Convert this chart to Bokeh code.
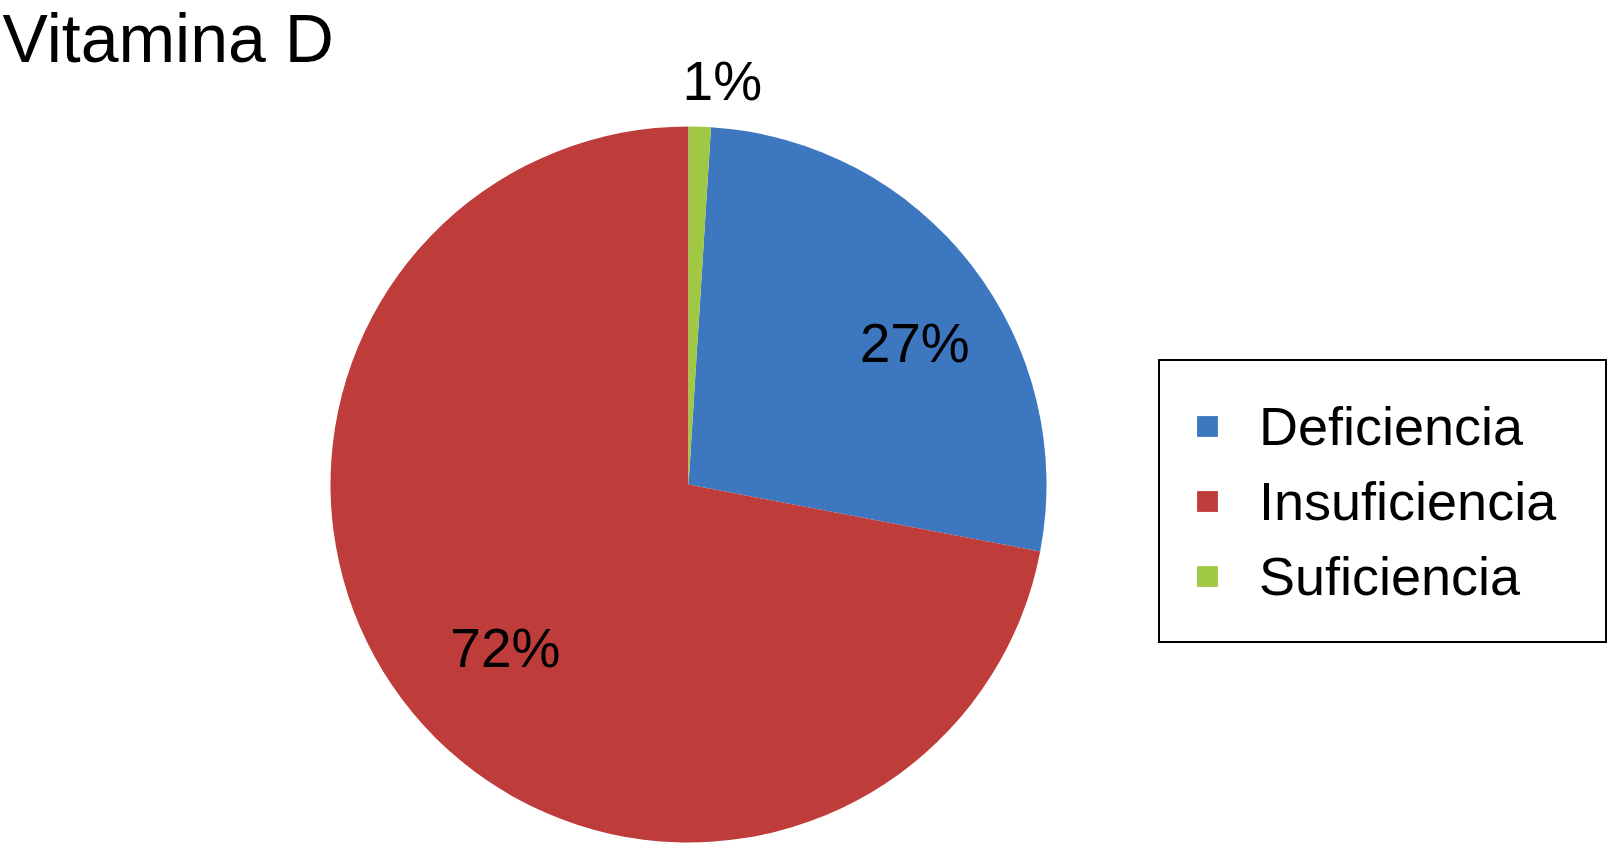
import math
from bokeh.plotting import figure
from bokeh.models import ColumnDataSource, Legend, LegendItem, Label
from bokeh.embed import file_html
from bokeh.resources import INLINE

# ---- data ----
categories = ["Deficiencia", "Insuficiencia", "Suficiencia"]
values = [27, 72, 1]
pct_labels = ["27%", "72%", "1%"]
colors = ["#3D77BF", "#BE3C3A", "#A0C842"]
title_text = "Vitamina D"

# ---- layout ----
W, H = 1609, 844
cx, cy, R = 688, H - 484, 358
start_offset_deg = 3.6          # first slice starts slightly right of 12 o'clock
label_r = [0.745, 0.685, 1.13]  # radial position of labels (fraction of R)
label_da = [5.8, -2.1, 3.0]     # angular nudge (deg, clockwise)
FONT = "Liberation Sans"

total = float(sum(values))
starts, ends, lx, ly = [], [], [], []
cum = start_offset_deg
for i, v in enumerate(values):
    sweep = v / total * 360.0
    a0 = cum
    a1 = cum + sweep
    # clockwise-from-top degrees -> bokeh radians (anticlockwise from +x)
    starts.append(math.radians(90 - a0))
    ends.append(math.radians(90 - a1))
    mid = (a0 + a1) / 2.0 + label_da[i]
    lx.append(cx + label_r[i] * R * math.sin(math.radians(mid)))
    ly.append(cy + label_r[i] * R * math.cos(math.radians(mid)))
    cum = a1

src = ColumnDataSource(dict(cat=categories, val=values, color=colors,
                            start=starts, end=ends,
                            x=[cx] * 3, y=[cy] * 3,
                            lx=lx, ly=ly, txt=pct_labels))

p = figure(width=W, height=H, x_range=(0, W), y_range=(0, H),
           output_backend="svg", toolbar_location=None,
           min_border=0, outline_line_color=None)
p.axis.visible = False
p.grid.visible = False
p.background_fill_color = "white"
p.border_fill_color = "white"

r = p.wedge(x="x", y="y", radius=R, start_angle="start", end_angle="end",
            direction="clock", fill_color="color", line_color=None, source=src)

p.text(x="lx", y="ly", text="txt", source=src, text_align="center",
       text_baseline="middle", text_font_size="55px", text_color="black",
       text_font={"value": FONT})

legend = Legend(items=[LegendItem(label=c, renderers=[r], index=i)
                       for i, c in enumerate(categories)],
                location=(1158, H - 643), orientation="vertical",
                border_line_color="black", border_line_width=2.5,
                border_line_alpha=1.0,
                background_fill_color="white", background_fill_alpha=1,
                glyph_width=26, glyph_height=26, label_standoff=39,
                label_text_font=FONT, label_text_font_size="54px",
                label_text_color="black", label_width=312,
                padding=34, spacing=13, margin=0)
p.add_layout(legend, "center")

p.add_layout(Label(x=2, y=H - 37, x_units="screen", y_units="screen",
                   text=title_text, text_font=FONT, text_font_size="68px",
                   text_baseline="alphabetic", text_color="black"))

open("out.html", "w").write(file_html(p, INLINE))
